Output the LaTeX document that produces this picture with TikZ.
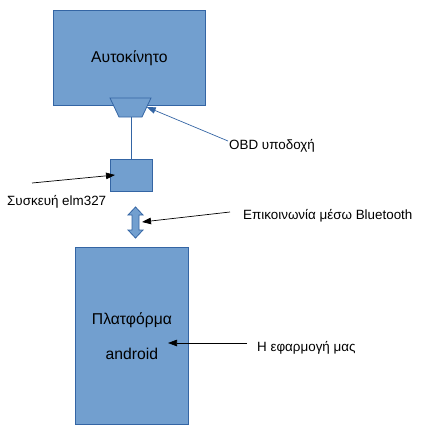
\documentclass[tikz,border=0pt]{standalone}
\usepackage{fontspec}
\setmainfont{Liberation Sans}
\usetikzlibrary{arrows.meta}
\definecolor{boxfill}{HTML}{729FCF}
\definecolor{boxborder}{HTML}{3465A4}
\begin{document}
\begin{tikzpicture}[x=1pt,y=-1pt,
  box/.style={draw=boxborder, fill=boxfill, line width=0.8pt, inner sep=0pt, font=\fontsize{15.7}{18}\selectfont},
  lbl/.style={anchor=west, inner sep=0pt, font=\fontsize{13.4}{15}\selectfont},
  ptr/.style={-{Triangle[length=9pt,width=6.5pt]}, line width=0.7pt},
  bptr/.style={ptr, draw=boxborder, -{Triangle[length=9pt,width=6.5pt,fill=boxborder]}}]
\useasboundingbox (0,0) rectangle (421,431);
% car
\node[box, minimum width=152pt, minimum height=95pt, anchor=north west] (car) at (53,10) {Αυτοκίνητο};
% OBD socket (trapezoid)
\coordinate (tl) at (110,98);
\coordinate (tr) at (151,98);
\coordinate (br) at (142,117);
\coordinate (bl) at (119,117);
\coordinate (sockbot) at (131,117);
\coordinate (socktip) at (146.7,107);
\draw[draw=boxborder, fill=boxfill, line width=0.8pt] (tl) -- (tr) -- (br) -- (bl) -- cycle;
% elm327 device
\node[box, minimum width=42pt, minimum height=32pt, anchor=north west] (elm) at (110,159) {};
\draw[draw=boxborder, line width=0.8pt] (sockbot) -- (elm.north -| sockbot);
% labels
\node[lbl] (obdl) at (229,146) {OBD υποδοχή};
\coordinate (obds) at (228,141);
\draw[bptr] (obds) -- (socktip);
\node[lbl] (elml) at (7,202) {Συσκευή elm327};
\coordinate (elms) at (32,183);
\coordinate (elmt) at (115,175);
\draw[ptr] (elms) -- (elmt);
% bluetooth double arrow
\coordinate (bt) at (135.5,207);
\coordinate (bb) at (135.5,238);
\draw[draw=boxborder, fill=boxfill, line width=0.8pt]
  (bt) -- (143,215) -- (139,215) -- (139,230) -- (143,230) -- (bb)
  -- (128,230) -- (132,230) -- (132,215) -- (128,215) -- cycle;
\node[lbl] (btl) at (243,216) {Επικοινωνία μέσω Bluetooth};
\coordinate (bts) at (230,212);
\coordinate (btt) at (142,222);
\draw[ptr] (bts) -- (btt);
% android platform
\node[box, minimum width=113pt, minimum height=177pt, anchor=north west, align=center] (andr) at (75,247) {Πλατφόρμα\\[17pt]android};
\node[lbl] (appl) at (257,348) {Η εφαρμογή μας};
\coordinate (apps) at (247,343);
\coordinate (appt) at (168,343);
\draw[ptr] (apps) -- (appt);
\end{tikzpicture}
\end{document}
